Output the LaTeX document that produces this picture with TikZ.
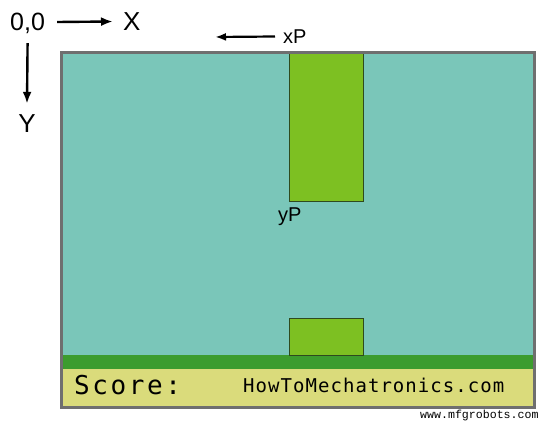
\documentclass[tikz,border=0pt]{standalone}
\usepackage{fontspec}
\setmainfont{Liberation Sans}
\newfontfamily\lcdA[LetterSpace=10]{DejaVu Sans Mono}
\newfontfamily\lcdB[LetterSpace=5.5]{DejaVu Sans Mono}
\newfontfamily\wmfont{Liberation Mono}
\usetikzlibrary{arrows.meta}
\definecolor{skyteal}{HTML}{7AC6B9}
\definecolor{pipegreen}{HTML}{7DC022}
\definecolor{stripgreen}{HTML}{3C9C2E}
\definecolor{scoreyellow}{HTML}{DADB7B}
\definecolor{framegray}{HTML}{6F6F6F}
\definecolor{pipeedge}{HTML}{2E4A1E}
\tikzset{
  lbl/.style={inner sep=0pt, anchor=base west, text depth=0pt},
  arr/.style={line width=2.4pt, -{Latex[length=12pt,width=9pt]}},
  pipe/.style={draw=pipeedge, line width=0.9pt, fill=pipegreen, inner sep=0pt, anchor=north west},
}
\begin{document}
\begin{tikzpicture}[x=1pt,y=-1pt]
\useasboundingbox (0,0) rectangle (550,425);
% game field
\fill[skyteal] (61.5,52.5) rectangle (534.5,355);
\fill[stripgreen] (61.5,355) rectangle (534.5,369);
\fill[scoreyellow] (61.5,369) rectangle (534.5,407.5);
\node[pipe, minimum width=74pt, minimum height=148pt] (toppipe) at (289,53) {};
\node[pipe, minimum width=74pt, minimum height=37pt] (botpipe) at (289,318) {};
\draw[framegray, line width=3pt] (61.5,52.5) rectangle (534.5,407.5);
% axes
\node[lbl, font=\fontsize{25}{25}\selectfont, text height=18pt] (origin) at (10,31) {0,0};
\node[lbl, font=\fontsize{26}{26}\selectfont, text height=19pt] (xaxis) at (123,31) {X};
\node[inner sep=0pt, anchor=base, text depth=0pt, text height=19pt, font=\fontsize{26}{26}\selectfont] (yaxis) at (27,133) {Y};
\draw[arr] (origin.east) ++(12pt,0) -- ([xshift=-10pt]xaxis.west);
\draw[arr] ([yshift=-12pt]origin.south) -- ([yshift=10pt]yaxis.north);
% xP / yP
\node[lbl, font=\fontsize{20}{20}\selectfont, text height=15pt] (xP) at (283,44) {xP};
\coordinate (xPend) at (215,37);
\draw[line width=2.2pt, -{Latex[length=11pt,width=8pt]}] ([xshift=-8pt]xP.west) -- (xPend);
\node[lbl, font=\fontsize{20}{20}\selectfont] (yP) at (278,222) {yP};
% score bar
\node[lbl, font=\lcdA\fontsize{26}{26}\selectfont] (score) at (74,395) {Score:};
\node[lbl, font=\lcdB\fontsize{19}{19}\selectfont] (site) at (243,392) {HowToMechatronics.com};
% watermark
\node[lbl, font=\wmfont\fontsize{11.6}{11.6}\selectfont] (wm) at (420,419) {www.mfgrobots.com};
\end{tikzpicture}
\end{document}
